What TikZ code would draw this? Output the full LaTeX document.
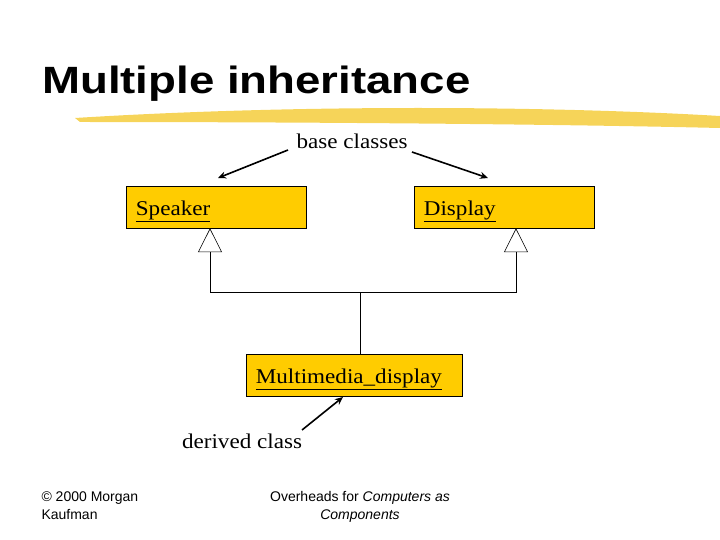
\documentclass[tikz,border=0pt]{standalone}
\usepackage{fontspec}
\setmainfont{Liberation Serif}
\newfontfamily\arialfont{Liberation Sans}
\usetikzlibrary{arrows.meta,positioning}
\definecolor{boxyellow}{RGB}{255,204,0}
\definecolor{brushyellow}{RGB}{245,205,60}

\begin{document}
\begin{tikzpicture}[x=1pt,y=-1pt,
  cls/.style={draw,fill=boxyellow,minimum width=180pt,minimum height=42pt,inner sep=0pt},
  lbl/.style={font=\fontsize{21}{24}\selectfont,xscale=1.1},
  ptr/.style={-{Stealth[length=8pt,width=7pt]},line width=1.6pt},
  inh/.style={-{Triangle[open,length=24pt,width=24pt,fill=white]},line width=0.6pt}]
  \useasboundingbox (0,0) rectangle (720,540);
  % title and brush stroke
  \node[anchor=base west,font=\arialfont\bfseries\fontsize{38}{42}\selectfont,xscale=1.2] (title) at (38,94) {Multiple inheritance};
  \fill[brushyellow,opacity=0.85] (75,118) .. controls (300,104) and (550,106) .. (720,116)
    -- (720,128) .. controls (550,124) and (300,122) .. (80,122) -- cycle;
  % classes
  \node[cls] (speaker) at (216,207) {};
  \node[cls] (display) at (504,207) {};
  \node[cls,minimum width=216pt] (multi) at (354,375) {};
  \node[lbl,anchor=base west] (tspeaker) at (132,215) {\underline{Speaker}};
  \node[lbl,anchor=base west] (tdisplay) at (420,215) {\underline{Display}};
  \node[lbl,anchor=base west] (tmulti) at (252,383) {\underline{Multimedia\_display}};
  \node[lbl,anchor=base] (base) at (352,149) {base classes};
  \node[lbl,anchor=base] (derived) at (242,448) {derived class};
  % inheritance
  \coordinate (join) at (360,292);
  \draw[line width=0.6pt] (multi.north -| join) -- (join);
  \draw[inh] (join) -| (speaker.south -| 210,0);
  \draw[inh] (join) -| (display.south -| 516,0);
  % pointers
  \draw[ptr] (288,150) -- (218,178);
  \draw[ptr] (412,152) -- (488,178);
  \draw[ptr] (302,430) -- (343,397);
  % footer
  \node[anchor=north west,align=left,font=\arialfont\fontsize{14}{18}\selectfont] (copy) at (38,488) {© 2000 Morgan\\Kaufman};
  \node[anchor=north,align=center,font=\arialfont\fontsize{14}{18}\selectfont] (over) at (360,488) {Overheads for \textit{Computers as}\\\textit{Components}};
\end{tikzpicture}
\end{document}
